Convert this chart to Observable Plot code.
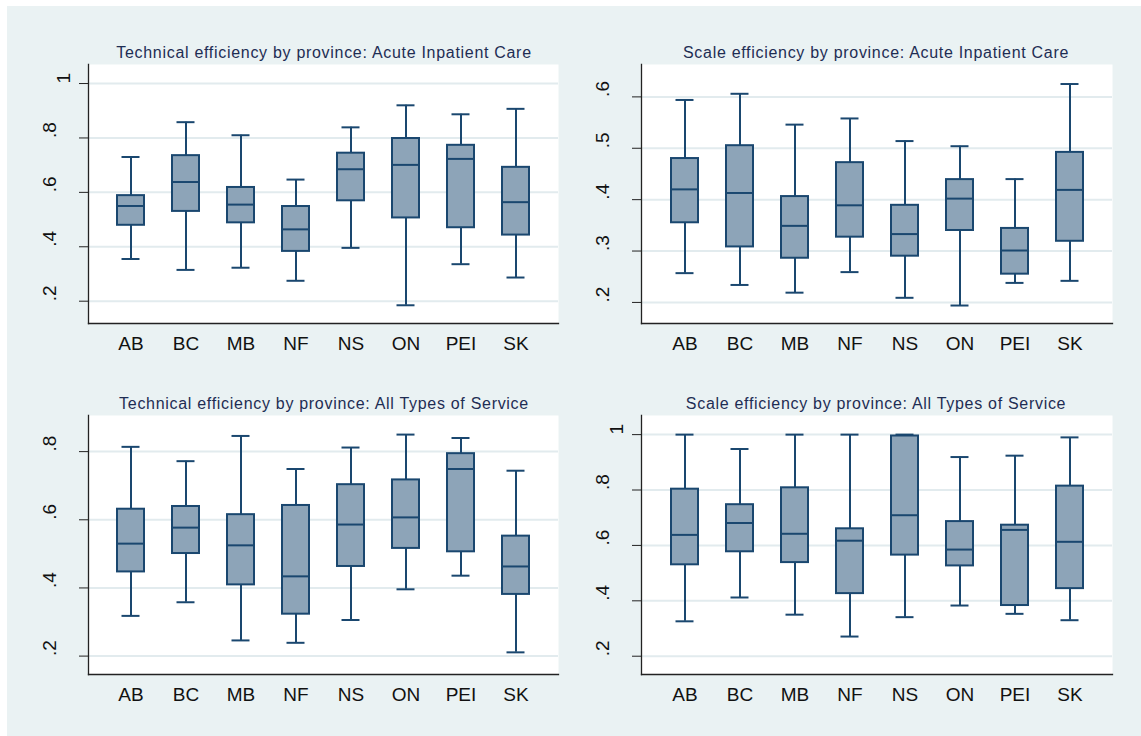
<!DOCTYPE html>
<html>
<head>
<meta charset="utf-8">
<script src="https://cdn.jsdelivr.net/npm/d3@7"></script>
<script src="https://cdn.jsdelivr.net/npm/@observablehq/plot@0.6"></script>
<style>
  html, body { margin: 0; padding: 0; background: #ffffff; }
  #root { position: relative; width: 1141px; height: 736px; overflow: hidden; background: #ffffff; }
  #bg { position: absolute; left: 7px; top: 6px; right: 0; bottom: 0; background: #eaf2f3; }
  .panel { position: absolute; }
  .title { position: absolute; font-family: "Liberation Sans", Arial, sans-serif; font-size: 16px; letter-spacing: 0.7px;
           color: #1e2d53; white-space: nowrap; transform: translate(-50%, -50%); }
</style>
</head>
<body>
<div id="root"><div id="bg"></div></div>
<script>
// ---- Data ----
const provinces = ["AB", "BC", "MB", "NF", "NS", "ON", "PEI", "SK"];

// Technical efficiency: Acute Inpatient Care
const techAcuteLow = [0.355, 0.315, 0.323, 0.275, 0.396, 0.185, 0.336, 0.287];
const techAcuteQ1  = [0.479, 0.530, 0.488, 0.383, 0.569, 0.506, 0.470, 0.443];
const techAcuteMed = [0.550, 0.638, 0.555, 0.464, 0.685, 0.701, 0.723, 0.564];
const techAcuteQ3  = [0.588, 0.735, 0.618, 0.548, 0.744, 0.798, 0.773, 0.692];
const techAcuteHigh= [0.730, 0.858, 0.810, 0.647, 0.839, 0.920, 0.887, 0.907];

// Scale efficiency: Acute Inpatient Care
const scaleAcuteLow = [0.257, 0.234, 0.219, 0.259, 0.209, 0.194, 0.238, 0.242];
const scaleAcuteQ1  = [0.355, 0.308, 0.286, 0.327, 0.290, 0.340, 0.255, 0.319];
const scaleAcuteMed = [0.420, 0.413, 0.349, 0.389, 0.333, 0.402, 0.301, 0.419];
const scaleAcuteQ3  = [0.480, 0.505, 0.406, 0.472, 0.389, 0.439, 0.344, 0.492];
const scaleAcuteHigh= [0.594, 0.606, 0.546, 0.558, 0.514, 0.504, 0.440, 0.625];

// Technical efficiency: All Types of Service
const techAllLow = [0.318, 0.358, 0.246, 0.239, 0.306, 0.396, 0.436, 0.211];
const techAllQ1  = [0.447, 0.501, 0.409, 0.323, 0.463, 0.516, 0.506, 0.381];
const techAllMed = [0.530, 0.577, 0.525, 0.434, 0.586, 0.607, 0.749, 0.463];
const techAllQ3  = [0.631, 0.639, 0.615, 0.642, 0.703, 0.717, 0.794, 0.552];
const techAllHigh= [0.814, 0.772, 0.846, 0.749, 0.812, 0.850, 0.840, 0.744];

// Scale efficiency: All Types of Service
const scaleAllLow = [0.326, 0.412, 0.350, 0.271, 0.341, 0.383, 0.353, 0.330];
const scaleAllQ1  = [0.530, 0.577, 0.538, 0.426, 0.565, 0.526, 0.383, 0.444];
const scaleAllMed = [0.638, 0.681, 0.642, 0.617, 0.709, 0.585, 0.656, 0.613];
const scaleAllQ3  = [0.803, 0.747, 0.808, 0.660, 0.995, 0.686, 0.673, 0.814];
const scaleAllHigh= [1.000, 0.948, 1.000, 1.000, 1.000, 0.919, 0.924, 0.990];

const titles = [
  "Technical efficiency by province: Acute Inpatient Care",
  "Scale efficiency by province: Acute Inpatient Care",
  "Technical efficiency by province: All Types of Service",
  "Scale efficiency by province: All Types of Service"
];
const ticksA = [0.2, 0.4, 0.6, 0.8, 1];
const ticksB = [0.2, 0.3, 0.4, 0.5, 0.6];
const ticksC = [0.2, 0.4, 0.6, 0.8];

// ---- Styling ----
const navy = "#1a476f";
const boxFill = "#8da4b8";
const gridColor = "#e2ebee";
const fontFam = "'Liberation Sans', Arial, sans-serif";
const fmt = d => d === 1 ? "1" : String(d).replace(/^0/, "");

function rowsOf(lo, q1, med, q3, hi) {
  return provinces.map((p, i) => ({prov: p, lo: lo[i], q1: q1[i], med: med[i], q3: q3[i], hi: hi[i]}));
}

function panel(rows, yDomain, ticks, box) {
  const ones = ticks.filter(t => t === 1);
  const decs = ticks.filter(t => t !== 1);
  return Plot.plot({
    width: box.w, height: box.h,
    marginLeft: box.ml, marginRight: box.mr, marginTop: box.mt, marginBottom: box.mb,
    style: {background: "transparent", fontFamily: fontFam, overflow: "visible"},
    x: {domain: provinces, paddingInner: 0.51, paddingOuter: 0.52, label: null},
    y: {domain: yDomain, label: null},
    marks: [
      Plot.frame({fill: "white", stroke: null}),
      Plot.gridY(ticks, {stroke: gridColor, strokeOpacity: 1, strokeWidth: 2}),
      Plot.axisX({tickSize: 0, tickPadding: 13, fontSize: 19, fill: "#111", label: null, style: {letterSpacing: "1px"}}),
      Plot.axisY(ticks, {tickSize: 9, tickFormat: () => "", label: null, stroke: "#222"}),
      Plot.text(decs, {y: d => d, text: fmt, frameAnchor: "left", dx: -39, rotate: -90, fontSize: 19, fill: "#111"}),
      Plot.text(ones, {y: d => d, text: fmt, frameAnchor: "left", dx: -25, rotate: -90, fontSize: 19, fill: "#111"}),
      Plot.ruleX(rows, {x: "prov", y1: "lo", y2: "hi", stroke: navy, strokeWidth: 2}),
      Plot.tickY(rows, {x: "prov", y: "lo", stroke: navy, strokeWidth: 2, insetLeft: 4.5, insetRight: 4.5}),
      Plot.tickY(rows, {x: "prov", y: "hi", stroke: navy, strokeWidth: 2, insetLeft: 4.5, insetRight: 4.5}),
      Plot.barY(rows, {x: "prov", y1: "q1", y2: "q3", fill: boxFill, stroke: navy, strokeWidth: 2}),
      Plot.tickY(rows, {x: "prov", y: "med", stroke: navy, strokeWidth: 2}),
      Plot.frame({anchor: "left", stroke: "#222", strokeWidth: 1.3}),
      Plot.frame({anchor: "bottom", stroke: "#222", strokeWidth: 1.3})
    ]
  });
}

const root = document.getElementById("root");
const specs = [
  {rows: rowsOf(techAcuteLow, techAcuteQ1, techAcuteMed, techAcuteQ3, techAcuteHigh), dom: [0.118, 1.07], ticks: ticksA,
   box: {x: 0, y: 0, w: 570, h: 370, ml: 88, mr: 12, mt: 64, mb: 47}, tx: 324, ty: 53},
  {rows: rowsOf(scaleAcuteLow, scaleAcuteQ1, scaleAcuteMed, scaleAcuteQ3, scaleAcuteHigh), dom: [0.159, 0.663], ticks: ticksB,
   box: {x: 570, y: 0, w: 571, h: 370, ml: 71, mr: 29, mt: 64, mb: 47}, tx: 876, ty: 53},
  {rows: rowsOf(techAllLow, techAllQ1, techAllMed, techAllQ3, techAllHigh), dom: [0.146, 0.906], ticks: ticksC,
   box: {x: 0, y: 370, w: 570, h: 366, ml: 88, mr: 12, mt: 45, mb: 62}, tx: 324, ty: 404},
  {rows: rowsOf(scaleAllLow, scaleAllQ1, scaleAllMed, scaleAllQ3, scaleAllHigh), dom: [0.134, 1.069], ticks: ticksA,
   box: {x: 570, y: 370, w: 571, h: 366, ml: 71, mr: 29, mt: 45, mb: 62}, tx: 876, ty: 404}
];

specs.forEach((s, i) => {
  const svg = panel(s.rows, s.dom, s.ticks, s.box);
  svg.classList.add("panel");
  svg.style.left = s.box.x + "px";
  svg.style.top = s.box.y + "px";
  svg.style.position = "absolute";
  svg.style.maxWidth = "none";
  root.appendChild(svg);
  const t = document.createElement("div");
  t.className = "title";
  t.textContent = titles[i];
  t.style.left = s.tx + "px";
  t.style.top = s.ty + "px";
  root.appendChild(t);
});
</script>
</body>
</html>
